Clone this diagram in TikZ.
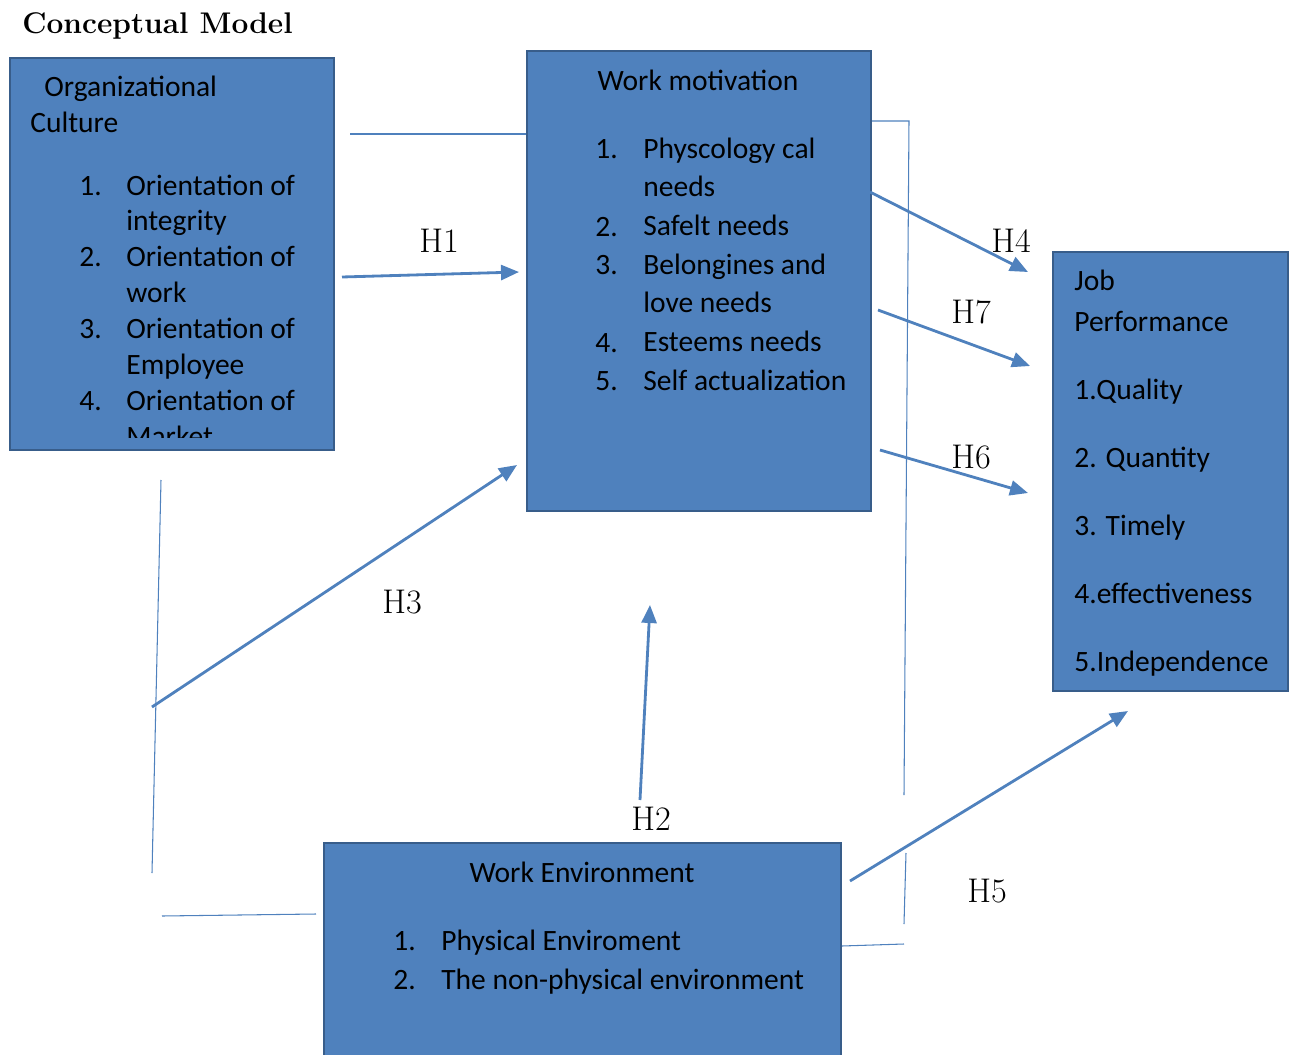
\documentclass[tikz,border=0pt]{standalone}
\usepackage{fontspec}
\newfontfamily\boxfont{Carlito}
\usetikzlibrary{positioning}
\usetikzlibrary{arrows.meta}

\definecolor{boxblue}{HTML}{4F81BD}
\definecolor{boxedge}{HTML}{385D8A}

\tikzset{
  varbox/.style={rectangle, draw=boxedge, line width=1.2pt, fill=boxblue, inner sep=0pt, anchor=north west},
  hyparrow/.style={draw=boxblue, line width=1.6pt, -{Triangle[length=3.6mm,width=3mm]}},
  linkline/.style={draw=boxblue, line width=0.6pt},
  hlabel/.style={inner sep=0pt, font=\fontsize{19.5}{22}\selectfont},
  itemtext/.style={anchor=base west, inner sep=0pt, font=\boxfont\fontsize{16.8}{20}\selectfont},
}

\begin{document}
\begin{tikzpicture}[x=0.02cm,y=-0.02cm]
  \useasboundingbox (0,0) rectangle (1296,1055);
  \clip (0,0) rectangle (1296,1055);

  \node[anchor=base west, inner sep=0pt, font=\bfseries\fontsize{17}{20}\selectfont] (title) at (22,33) {Conceptual Model};

  %boxes
  \node[varbox, minimum width=6.48cm, minimum height=7.84cm] (oc) at (9,57) {};
  \node[varbox, minimum width=6.88cm, minimum height=9.2cm] (wm) at (526,50) {};
  \node[varbox, minimum width=4.7cm, minimum height=8.78cm] (jp) at (1052,251) {};
  \node[varbox, minimum width=10.34cm, minimum height=4.6cm] (we) at (323,842) {};

  %Organizational Culture
  \node[itemtext] (oc-head1) at (44,96) {Organizational};
  \node[itemtext] (oc-head2) at (30,132) {Culture};
  \begin{scope}
    \clip (9,57) rectangle (333,437);
    \foreach \num/\y in {1/195, 2/266, 3/338, 4/410}
      \node[itemtext] (oc-num\num) at (79,\y) {\num.};
    \foreach \txt [count=\i] in {Orientation of, integrity, Orientation of, work, Orientation of, Employee, Orientation of, Market}
      \node[itemtext] (oc-line\i) at (126,{195+35.9*(\i-1)}) {\txt};
  \end{scope}

  %Work motivation
  \node[itemtext, anchor=base] (wm-head) at (698,90) {Work motivation};
  \foreach \num/\y in {1/158, 2/236, 3/274, 4/352, 5/390}
    \node[itemtext] (wm-num\num) at (595,\y) {\num.};
  \foreach \txt [count=\i] in {Physcology cal, needs, Safelt needs, Belongines and, love needs, Esteems needs, Self actualization}
    \node[itemtext] (wm-line\i) at (643,{158+38.7*(\i-1)}) {\txt};

  %Job Performance
  \node[itemtext] (jp-head1) at (1074,290) {Job};
  \node[itemtext] (jp-head2) at (1074,331) {Performance};
  \foreach \txt [count=\i] in {1.Quality, 2. Quantity, 3. Timely, 4.effectiveness, 5.Independence}
    \node[itemtext] (jp-line\i) at (1074,{399+68*(\i-1)}) {\txt};

  %Work Environment
  \node[itemtext, anchor=base] (we-head) at (582,882) {Work Environment};
  \node[itemtext] (we-num1) at (393,950) {1.};
  \node[itemtext] (we-num2) at (393,989) {2.};
  \node[itemtext] (we-line1) at (441,950) {Physical Enviroment};
  \node[itemtext] (we-line2) at (441,989) {The non-physical environment};

  %free ends of the connectors
  \coordinate (oc-tie) at (350,134);
  \coordinate (h1-from) at (342,277);
  \coordinate (h1-to) at (519,272);
  \coordinate (h3-from) at (152,707);
  \coordinate (h3-to) at (517,465);
  \coordinate (left-top) at (161,480);
  \coordinate (left-bot) at (152,873);
  \coordinate (we-tie) at (162,916);
  \coordinate (we-tie-end) at (316,914);
  \coordinate (h2-from) at (640,800);
  \coordinate (h2-to) at (650,605);
  \coordinate (h4-from) at (870,192);
  \coordinate (h4-to) at (1028,272);
  \coordinate (h7-from) at (878,310);
  \coordinate (h7-to) at (1030,366);
  \coordinate (h6-from) at (880,450);
  \coordinate (h6-to) at (1028,493);
  \coordinate (h5-from) at (850,881);
  \coordinate (h5-to) at (1128,711);
  \coordinate (rbar-top) at (909,121);
  \coordinate (rbar-mid) at (904,795);
  \coordinate (rbar-low) at (906,853);
  \coordinate (rbar-bot) at (904,924);
  \coordinate (we-out) at (904,944);

  %thin lines
  \draw[linkline] (oc-tie) -- (oc-tie -| wm.west);
  \draw[linkline] (left-top) -- (left-bot);
  \draw[linkline] (we-tie) -- (we-tie-end);
  \draw[linkline] (rbar-top -| wm.east) -- (rbar-top) -- (rbar-mid);
  \draw[linkline] (rbar-low) -- (rbar-bot);
  \draw[linkline] (we.east |- 0,946) -- (we-out);

  %hypotheses
  \draw[hyparrow] (h1-from) -- (h1-to);
  \draw[hyparrow] (h3-from) -- (h3-to);
  \draw[hyparrow] (h2-from) -- (h2-to);
  \draw[hyparrow] (h4-from) -- (h4-to);
  \draw[hyparrow] (h7-from) -- (h7-to);
  \draw[hyparrow] (h6-from) -- (h6-to);
  \draw[hyparrow] (h5-from) -- (h5-to);

  \node[hlabel] (h1) at (439,241) {H1};
  \node[hlabel] (h4) at (1011,241) {H4};
  \node[hlabel] (h7) at (971,312) {H7};
  \node[hlabel] (h6) at (971,457) {H6};
  \node[hlabel] (h3) at (402,602) {H3};
  \node[hlabel] (h2) at (651,819) {H2};
  \node[hlabel] (h5) at (987,891) {H5};
\end{tikzpicture}
\end{document}
